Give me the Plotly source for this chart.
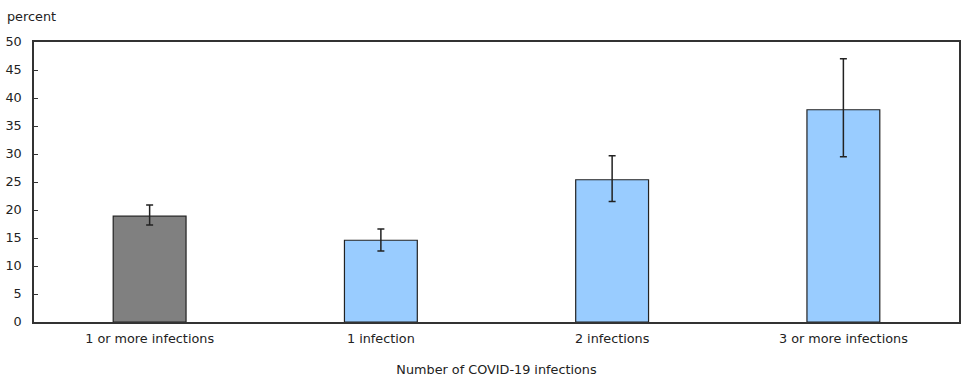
import plotly.graph_objects as go

categories = ["1 or more infections", "1 infection", "2 infections", "3 or more infections"]
values = [18.9, 14.6, 25.4, 37.9]
err_upper = [20.9, 16.6, 29.7, 47.0]
err_lower = [17.3, 12.7, 21.5, 29.5]
bar_colors = ["#808080", "#99CCFF", "#99CCFF", "#99CCFF"]
y_ticks = [0, 5, 10, 15, 20, 25, 30, 35, 40, 45, 50]

font_family = "Verdana, DejaVu Sans, sans-serif"
fs = 12.8

fig = go.Figure()
fig.add_trace(go.Bar(
    x=categories,
    y=values,
    marker=dict(color=bar_colors, line=dict(color="#222222", width=1.2)),
    error_y=dict(
        type="data",
        symmetric=False,
        array=[u - v for u, v in zip(err_upper, values)],
        arrayminus=[v - l for v, l in zip(values, err_lower)],
        color="#222222",
        thickness=1.5,
        width=3.5,
    ),
    hoverinfo="x+y",
))

fig.update_layout(
    width=975,
    height=381,
    margin=dict(l=34, r=16, t=42, b=59),
    paper_bgcolor="white",
    plot_bgcolor="white",
    bargap=0.685,
    showlegend=False,
    font=dict(family=font_family, size=fs, color="#222222"),
    xaxis=dict(
        title=dict(text="Number of COVID-19 infections", standoff=20,
                   font=dict(family=font_family, size=fs, color="#222222")),
        showline=True, linecolor="#333333", linewidth=1.5, mirror=True,
        ticks="", tickfont=dict(size=fs),
        ticklabelstandoff=4,
        automargin=False,
    ),
    yaxis=dict(
        range=[0, 50],
        tickvals=y_ticks,
        showline=True, linecolor="#333333", linewidth=1.5, mirror=True,
        ticks="inside", ticklen=4, tickcolor="#333333",
        showgrid=False, zeroline=False,
        tickfont=dict(size=fs),
        ticklabelstandoff=8,
        automargin=False,
    ),
    annotations=[dict(
        text="percent", x=0, xref="paper", xshift=-29, y=1, yref="paper",
        yshift=26, xanchor="left", yanchor="middle", showarrow=False,
        font=dict(family=font_family, size=fs, color="#222222"),
    )],
)

fig.write_html(
    "out.html",
    config={"displayModeBar": False},
    post_script="document.body.style.margin='0';document.body.style.padding='0';",
)
